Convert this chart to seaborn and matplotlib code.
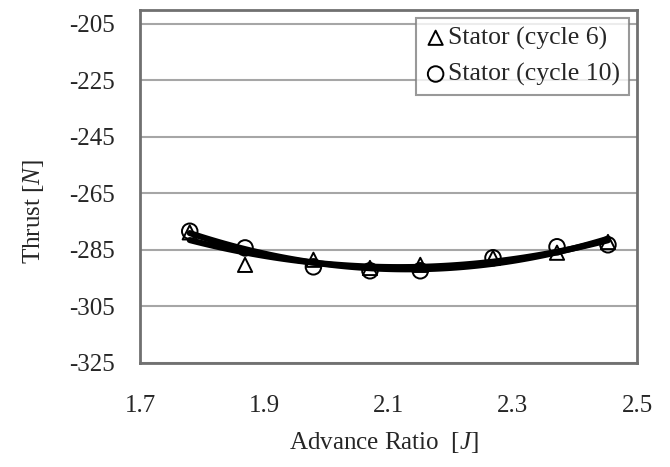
import numpy as np
import pandas as pd
import matplotlib
matplotlib.use("Agg")
import matplotlib.pyplot as plt
import seaborn as sns

# Advance ratio J and thrust on the stator for two cycles
advance_ratio = [1.780, 1.869, 1.979, 2.070, 2.151, 2.268, 2.371, 2.453]
thrust_cycle6 = [-278.8, -290.3, -288.5, -291.4, -290.3, -287.8, -286.0, -282.2]
thrust_cycle10 = [-278.4, -284.3, -291.0, -292.4, -292.4, -287.8, -283.9, -283.2]

series_labels = ["Stator (cycle 6)", "Stator (cycle 10)"]
x_ticks = [1.7, 1.9, 2.1, 2.3, 2.5]
y_ticks = [-325, -305, -285, -265, -245, -225, -205]

sns.set_theme(style="white")
plt.rcParams["font.family"] = ["Liberation Serif", "DejaVu Serif"]
plt.rcParams["mathtext.fontset"] = "custom"
plt.rcParams["mathtext.rm"] = "Liberation Serif"
plt.rcParams["mathtext.it"] = "Liberation Serif:italic"

df6 = pd.DataFrame({"J": advance_ratio, "T": thrust_cycle6})
df10 = pd.DataFrame({"J": advance_ratio, "T": thrust_cycle10})

fig = plt.figure(figsize=(6.7, 4.67), dpi=100)
ax = fig.add_axes([0.209, 0.223, 0.742, 0.756])

# second-order trend lines
for d in (df6, df10):
    sns.regplot(data=d, x="J", y="T", order=2, ci=None, scatter=False,
                color="black", line_kws={"linewidth": 4.4, "solid_capstyle": "round"}, ax=ax)

sns.scatterplot(data=df6, x="J", y="T", marker="^", s=105, facecolors="none",
                edgecolors="black", linewidth=1.4, label=series_labels[0], ax=ax, zorder=3)
sns.scatterplot(data=df10, x="J", y="T", marker="o", s=125, facecolors="none",
                edgecolors="black", linewidth=1.4, label=series_labels[1], ax=ax, zorder=3)

ax.set_xlim(1.7, 2.5)
ax.set_ylim(-325, -200)
ax.set_xticks(x_ticks)
ax.set_xticklabels([f"{v:.1f}" for v in x_ticks])
ax.set_yticks(y_ticks)
ax.set_yticklabels([str(v) for v in y_ticks])
ax.tick_params(axis="both", labelsize=18, length=0)
ax.tick_params(axis="x", pad=23)
ax.tick_params(axis="y", pad=18)

ax.yaxis.grid(True, color="#a6a6a6", linewidth=1.5)
ax.xaxis.grid(False)
for sp in ax.spines.values():
    sp.set_color("#707070")
    sp.set_linewidth(2)

ax.set_xlabel("Advance Ratio  [$\\mathit{J}$]", fontsize=18)
ax.set_ylabel("Thrust [$\\mathit{N}$]", fontsize=18)
ax.xaxis.set_label_coords(0.49, -0.19)
ax.yaxis.set_label_coords(-0.19, 0.43)

leg = ax.legend(loc="upper right", fontsize=18.5, frameon=True, fancybox=False,
                borderaxespad=0.3, handletextpad=0.1, handlelength=0.8,
                borderpad=0.35, labelspacing=0.5, markerscale=1.0)
leg.get_frame().set_edgecolor("#808080")
leg.get_frame().set_linewidth(1.5)

fig.savefig("out.png", dpi=100)
